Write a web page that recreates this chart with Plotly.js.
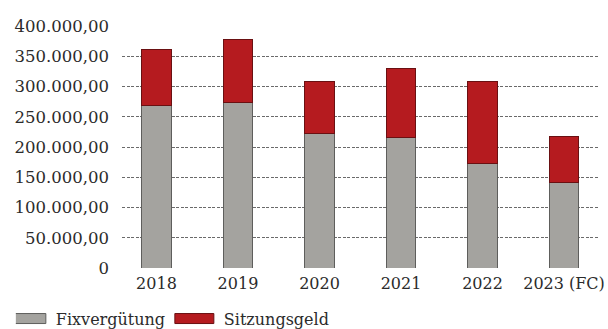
<!DOCTYPE html>
<html>
<head>
<meta charset="utf-8">
<script src="https://cdn.plot.ly/plotly-3.0.1.min.js"></script>
<style>
  html, body { margin: 0; padding: 0; background: #ffffff; }
  #chart { width: 608px; height: 329px; }
</style>
</head>
<body>
<div id="chart"></div>
<script>
// Vergütung des Aufsichtsrats je Geschäftsjahr (EUR)
const years = ['2018', '2019', '2020', '2021', '2022', '2023 (FC)'];
const fixverguetung = [269400, 273200, 222600, 215400, 173000, 142100];
const sitzungsgeld = [92100, 104800, 86000, 113600, 135000, 75000];

const yTickVals = [0, 50000, 100000, 150000, 200000, 250000, 300000, 350000, 400000];
const yTickText = ['0', '50.000,00', '100.000,00', '150.000,00', '200.000,00',
                   '250.000,00', '300.000,00', '350.000,00', '400.000,00'];

const FONT = 'DejaVu Serif, Liberation Serif, serif';
const TEXT = '#2b2b2b';

const traces = [
  {
    type: 'bar', name: 'Fixvergütung', x: years, y: fixverguetung,
    marker: { color: '#a4a39f', line: { color: '#5e5e5c', width: 1 } },
    hoverinfo: 'skip'
  },
  {
    type: 'bar', name: 'Sitzungsgeld', x: years, y: sitzungsgeld,
    marker: { color: '#b51b1f', line: { color: '#6a1012', width: 1 } },
    hoverinfo: 'skip'
  }
];

const layout = {
  width: 608, height: 329,
  margin: { l: 122, r: 10, t: 26, b: 61, autoexpand: false },
  paper_bgcolor: '#ffffff', plot_bgcolor: '#ffffff',
  barmode: 'stack',
  bargap: 0.64,
  font: { family: FONT, size: 16, color: TEXT },
  showlegend: true,
  legend: {
    orientation: 'h', x: -0.223, xanchor: 'left', y: -0.139, yanchor: 'top',
    font: { family: FONT, size: 16, color: TEXT },
    traceorder: 'normal', entrywidth: 123
  },
  xaxis: {
    type: 'category',
    range: [-0.423, 5.417],
    showgrid: false, zeroline: false, showline: false,
    ticks: '', ticklabelstandoff: 4,
    tickfont: { family: FONT, size: 16, color: TEXT }
  },
  yaxis: {
    range: [0, 400000],
    tickmode: 'array', tickvals: yTickVals, ticktext: yTickText,
    showgrid: true, gridcolor: '#6a6a6a', gridwidth: 1, griddash: '3px,1.5px',
    zeroline: false, showline: false,
    ticks: '', ticklabelstandoff: 12,
    tickfont: { family: FONT, size: 16.5, color: TEXT }
  }
};

Plotly.newPlot('chart', traces, layout, { staticPlot: true, displayModeBar: false }).then(function (gd) {
  // wider, flatter legend swatches
  gd.querySelectorAll('.legend .legendpoints path').forEach(function (p) {
    p.setAttribute('d', 'M-29,5H10V-5H-29Z');
  });
});
</script>
</body>
</html>
